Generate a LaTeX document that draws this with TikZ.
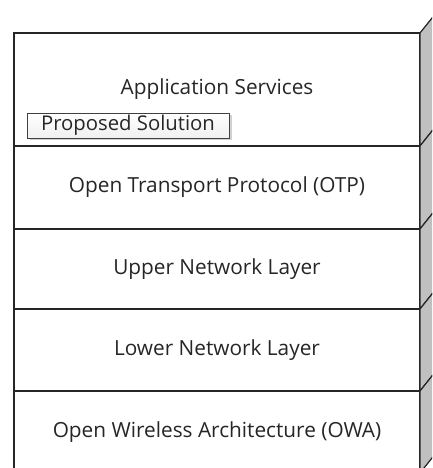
\documentclass[tikz,border=0pt]{standalone}
\usepackage{fontspec}
\setmainfont{Open Sans}
\usetikzlibrary{positioning, shadows}

\definecolor{sidegray}{RGB}{192,192,192}

\begin{document}
\begin{tikzpicture}[x=1pt, y=1pt,
        node distance=0pt,
        layer/.style={rectangle, draw=black!85, line width=1.2pt, fill=white, outer sep=0pt, inner sep=0pt,
            minimum width=406pt, align=center, font=\fontsize{20.8}{24}\selectfont, text=black!85},
        side/.style={draw=black!85, line width=1.2pt, fill=sidegray, line join=round},
        tag/.style={rectangle, draw=black!75, line width=0.8pt, top color=white, bottom color=black!6,
            minimum width=202pt, minimum height=25pt, inner sep=0pt, font=\fontsize{20.3}{24}\selectfont, text=black!85,
            drop shadow={shadow xshift=2.5pt, shadow yshift=-2.5pt, fill=black!18, opacity=1}}
        ]
        \useasboundingbox (0,0) rectangle (432,468);
        \clip (0,0) rectangle (432,468);

        \node[layer, minimum height=113pt, anchor=north west] (app) at (14,435) {Application Services};
        \node[layer, minimum height=83pt, below=of app] (otp) {Open Transport Protocol (OTP)};
        \node[layer, minimum height=80pt, below=of otp] (upper) {Upper Network Layer};
        \node[layer, minimum height=82pt, below=of upper] (lower) {Lower Network Layer};
        \node[layer, minimum height=82pt, below=of lower] (owa) {Open Wireless Architecture (OWA)};

        % side faces
        \foreach \n in {app, otp, upper, lower, owa}
            \draw[side] (\n.north east) -- ++(20,25) -- ([shift={(20,25)}]\n.south east) -- (\n.south east) -- cycle;

        \node[tag] (proposed) at (128,342.5) {Proposed Solution};
    \end{tikzpicture}
\end{document}
